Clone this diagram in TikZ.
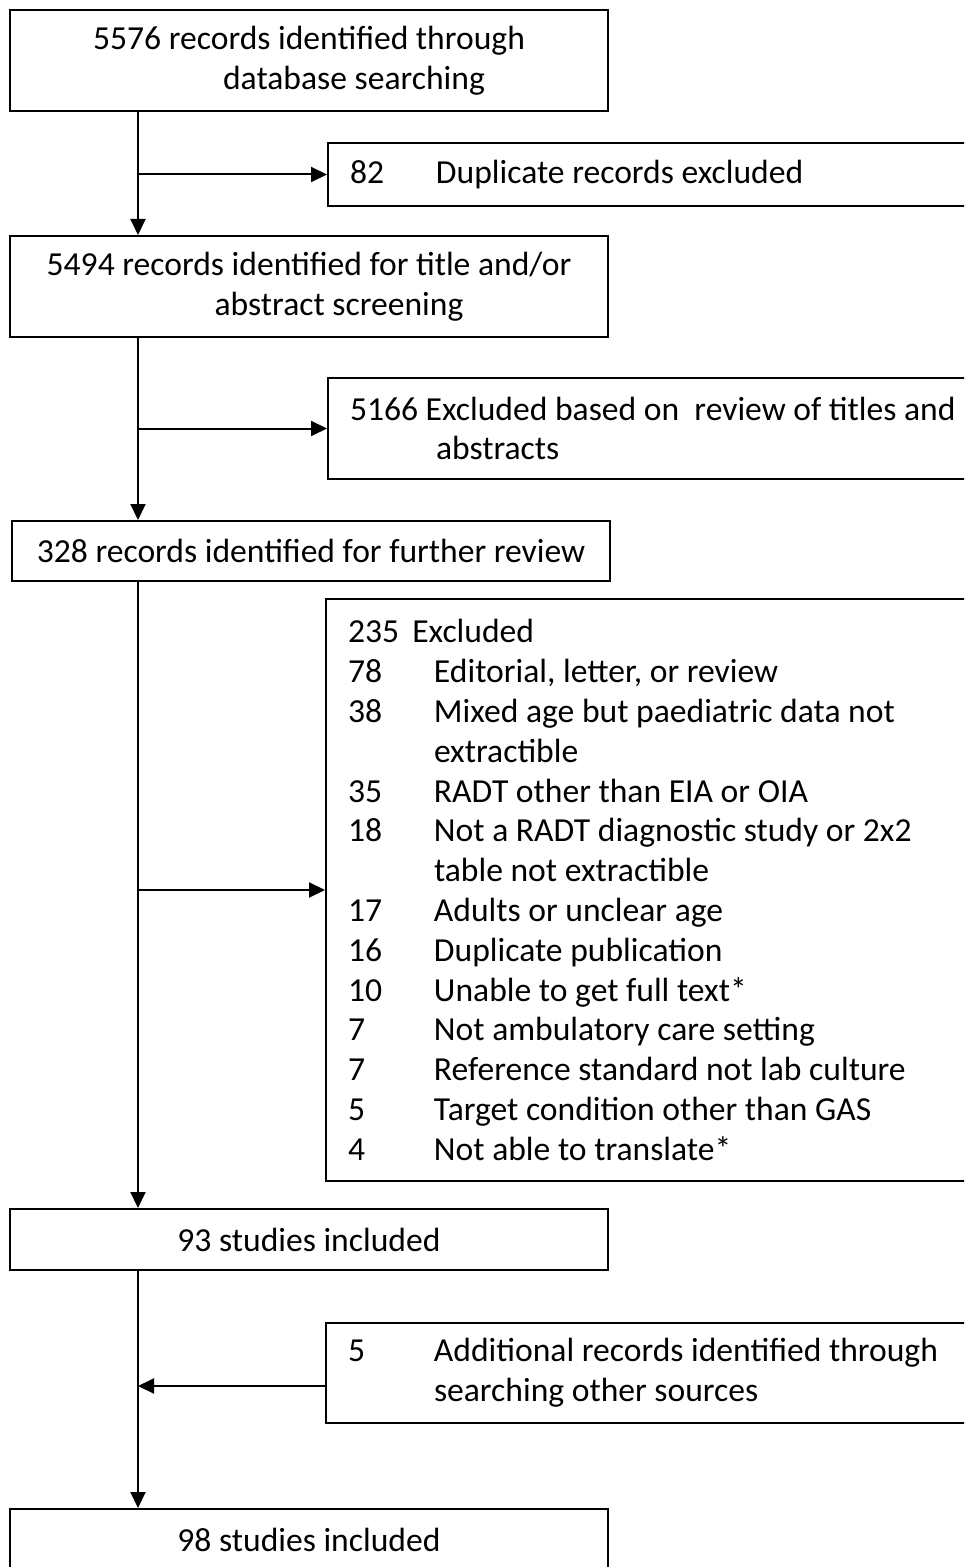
\documentclass[tikz,border=0pt]{standalone}
\usepackage{fontspec}
\setmainfont{Carlito}
\usetikzlibrary{arrows.meta}
\newcommand{\excl}[2]{\makebox[43pt][l]{#1}#2}

\begin{document}
\begin{tikzpicture}[x=0.5pt, y=-0.5pt, line width=1pt,
    font=\fontsize{16.8}{19.9}\selectfont,
    mainbox/.style={draw, minimum width=299pt, align=flush left, inner sep=0pt},
    sidebox/.style={draw, anchor=west, text width=318pt, inner xsep=11pt, align=flush left},
    arr/.style={-{Triangle[width=7.5pt, length=8pt]}}]
  % page frame
  \clip (0,0) rectangle (964,1567);
  \coordinate (trunk) at (138,0);
  % main column
  \node[mainbox, minimum height=50.5pt] (rec1) at (309,60.5)
    {5576 records identified through\\\hspace*{65pt}database searching};
  \node[mainbox, minimum height=50.5pt] (rec2) at (309,286.5)
    {5494 records identified for title and/or\\\hspace*{84pt}abstract screening};
  \node[mainbox, minimum height=30pt] (rec3) at (311,551)
    {328 records identified for further review};
  \node[mainbox, minimum height=30.5pt] (inc1) at (309,1239.5)
    {93 studies included};
  \node[mainbox, minimum height=30.5pt] (inc2) at (309,1539.5)
    {98 studies included};
  % side boxes
  \node[sidebox, minimum height=31.5pt] (dup) at (327,174.5)
    {\excl{82}{Duplicate records excluded}};
  \node[sidebox, minimum height=50.5pt] (excl1) at (327,428.5)
    {5166 Excluded based on\ \ review of titles and\\\hspace*{43pt}abstracts};
  \node[sidebox, minimum height=291pt] (excl2) at (325,890)
    {235 \,Excluded\\
     \excl{78}{Editorial, letter, or review}\\
     \excl{38}{Mixed age but paediatric data not}\\
     \hspace*{43pt}extractible\\
     \excl{35}{RADT other than EIA or OIA}\\
     \excl{18}{Not a RADT diagnostic study or 2x2}\\
     \hspace*{43pt}table not extractible\\
     \excl{17}{Adults or unclear age}\\
     \excl{16}{Duplicate publication}\\
     \excl{10}{Unable to get full text*}\\
     \excl{7}{Not ambulatory care setting}\\
     \excl{7}{Reference standard not lab culture}\\
     \excl{5}{Target condition other than GAS}\\
     \excl{4}{Not able to translate*}};
  \node[sidebox, minimum height=50pt] (add) at (325,1373)
    {\excl{5}{Additional records identified through}\\
     \hspace*{43pt}searching other sources};
  \coordinate (addin) at (325,1386);
  % connectors
  \draw[arr] (rec1.south -| trunk) -- (rec2.north -| trunk);
  \draw[arr] (trunk |- dup.west) -- (dup.west);
  \draw[arr] (rec2.south -| trunk) -- (rec3.north -| trunk);
  \draw[arr] (trunk |- excl1.west) -- (excl1.west);
  \draw[arr] (rec3.south -| trunk) -- (inc1.north -| trunk);
  \draw[arr] (trunk |- excl2.west) -- (excl2.west);
  \draw[arr] (inc1.south -| trunk) -- (inc2.north -| trunk);
  \draw[arr] (addin) -- (addin -| trunk);
\end{tikzpicture}
\end{document}
